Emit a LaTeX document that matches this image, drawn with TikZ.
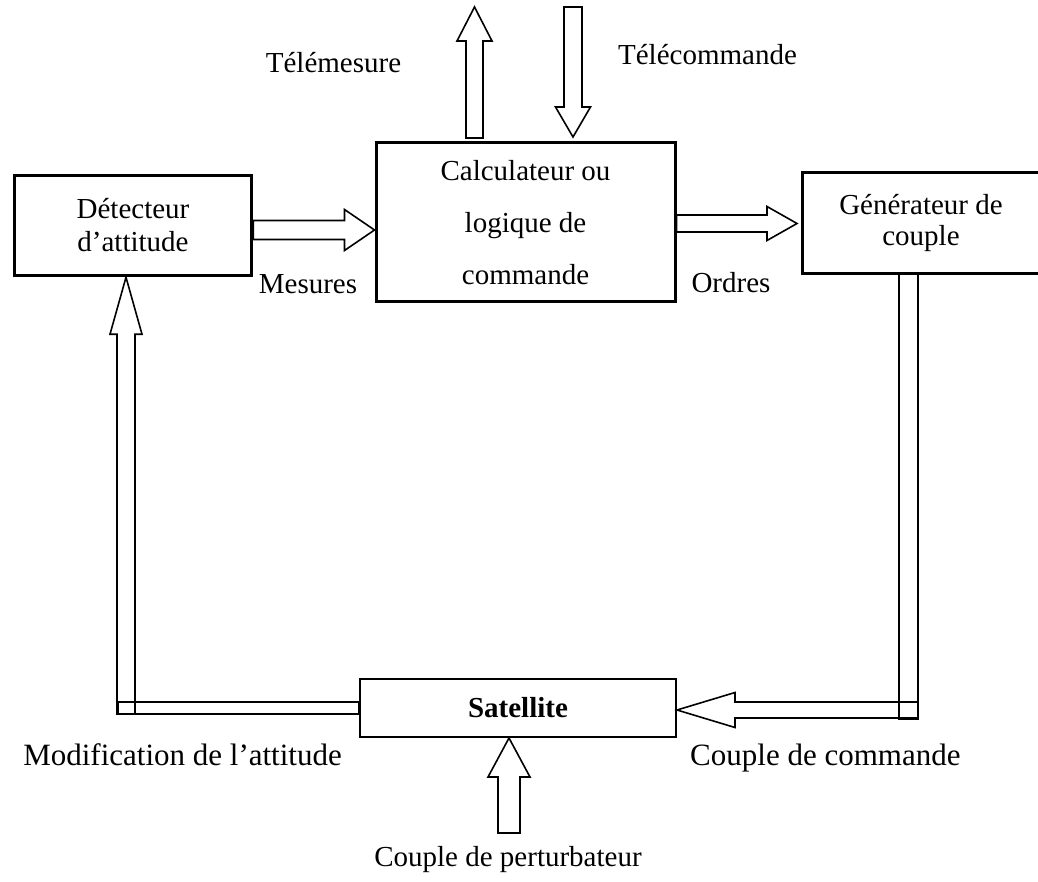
\documentclass[tikz,border=0pt]{standalone}
\usepackage{fontspec}
\setmainfont{Liberation Serif}
\usetikzlibrary{calc}

\tikzset{
  every node/.style={font=\fontsize{29}{33}\selectfont},
  box/.style={draw, line width=3pt, align=center, inner sep=0pt},
  lbl/.style={inner sep=0pt},
  biglbl/.style={lbl, font=\fontsize{31}{35}\selectfont},
  % flèche creuse : demi-largeur du fût, demi-largeur de la tête, longueur de la tête
  hollow/.style n args={3}{line width=1.6pt, line join=miter, to path={
    let \p1=(\tikztostart), \p2=(\tikztotarget), \n1={atan2(\y2-\y1,\x2-\x1)} in
    ($(\tikztostart)+(\n1+90:#1)$)
    -- ($(\tikztotarget)+(\n1+180:#3)+(\n1+90:#1)$)
    -- ($(\tikztotarget)+(\n1+180:#3)+(\n1+90:#2)$)
    -- (\tikztotarget)
    -- ($(\tikztotarget)+(\n1+180:#3)+(\n1-90:#2)$)
    -- ($(\tikztotarget)+(\n1+180:#3)+(\n1-90:#1)$)
    -- ($(\tikztostart)+(\n1-90:#1)$) -- cycle}},
  pipe/.style={hollow={#1}{#1}{0pt}}
}

\begin{document}
\begin{tikzpicture}[x=1pt,y=-1pt]
  \useasboundingbox (0,0) rectangle (1038,882);

  % Blocs
  \node[box, minimum width=237.5pt, minimum height=100.5pt] (det) at (133,225.5) {Détecteur\\d’attitude};
  \node[box, minimum width=299pt, minimum height=159pt, font=\fontsize{29}{52}\selectfont] (calc) at (525.5,222.5) {Calculateur ou\\logique de\\commande};
  \node[box, minimum width=238pt, minimum height=101pt, font=\fontsize{29}{31}\selectfont] (gen) at (921,223.5) {Générateur de\\couple};
  \node[box, line width=2pt, minimum width=316pt, minimum height=58pt] (sat) at (518,708) {\textbf{Satellite}};

  % Extrémités des flèches
  \coordinate (mesA) at (det.east |- 0,230);
  \coordinate (mesB) at (calc.west |- 0,230);
  \coordinate (ordA) at (calc.east |- 0,223.5);
  \coordinate (ordB) at (797,223.5);
  \coordinate (tmA) at (474.5,138);
  \coordinate (tmB) at (474.5,7);
  \coordinate (tcA) at (573,7);
  \coordinate (tcB) at (573,137);
  \coordinate (cornerL) at (126,714);
  \coordinate (cornerLe) at (118,708);
  \coordinate (detIn) at (cornerL |- det.south);
  \coordinate (genOut) at (908.5,274);
  \coordinate (cornerR) at (908.5,719);
  \coordinate (cornerRe) at (918,710);
  \coordinate (satIn) at (sat.east |- cornerRe);
  \coordinate (pert) at (509,833);
  \coordinate (pertIn) at (pert |- sat.south);

  % Flèches
  \draw[hollow={9.5pt}{20.5pt}{30pt}] (mesA) to (mesB);
  \draw[hollow={8.5pt}{17pt}{30pt}] (ordA) to (ordB);
  \draw[hollow={8.5pt}{17.5pt}{34pt}] (tmA) to (tmB);
  \draw[hollow={9pt}{17.5pt}{30pt}] (tcA) to (tcB);
  \draw[pipe=6pt] (sat.west) to (cornerLe);
  \draw[hollow={9pt}{16pt}{57pt}] (cornerL) to (detIn);
  \draw[pipe=9.5pt] (genOut) to (cornerR);
  \draw[hollow={8pt}{17.5pt}{58pt}] (cornerRe) to (satIn);
  \draw[hollow={11pt}{21pt}{39pt}] (pert) to (pertIn);

  % Étiquettes
  \node[lbl, anchor=base] (tmL) at (333.5,73) {Télémesure};
  \node[lbl, anchor=base] (tcL) at (707.5,65) {Télécommande};
  \node[lbl, anchor=base] (mesL) at (308,294) {Mesures};
  \node[lbl, anchor=base] (ordL) at (731,293) {Ordres};
  \node[biglbl, anchor=base east] (modL) at (342,765) {Modification de l’attitude};
  \node[biglbl, anchor=base west] (ccL) at (690,765) {Couple de commande};
  \node[lbl, anchor=base] (cpL) at (508,866) {Couple de perturbateur};
\end{tikzpicture}
\end{document}
